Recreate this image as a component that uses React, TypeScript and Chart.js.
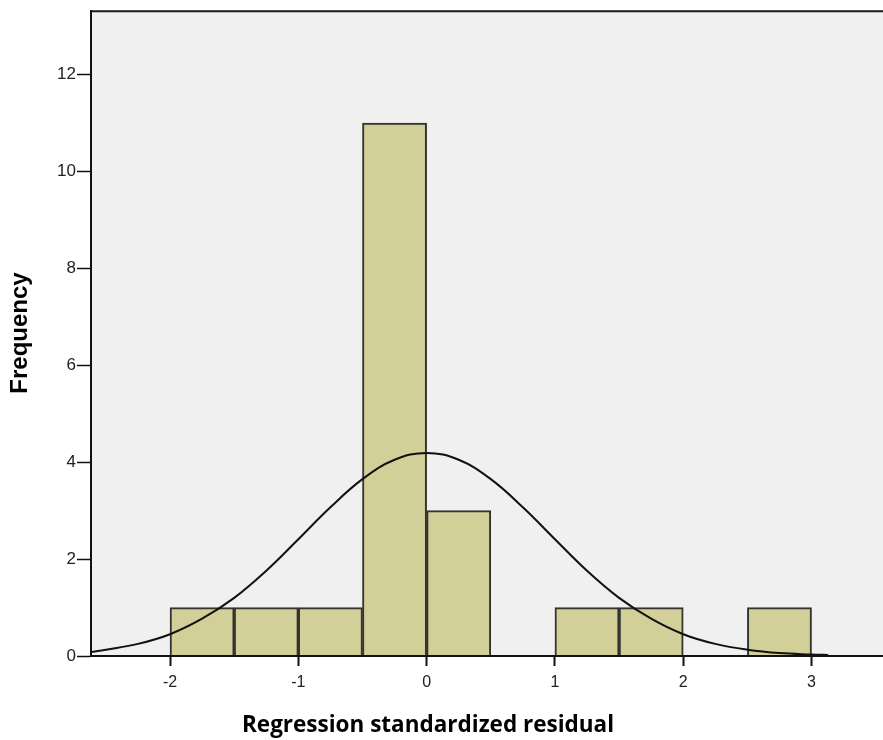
import React, { useEffect, useRef } from "react";
import { Chart, registerables } from "chart.js";

Chart.register(...registerables);

// Histogram bins (bin centres, width 0.5) and frequencies
const binCenters = [-1.75, -1.25, -0.75, -0.25, 0.25, 0.75, 1.25, 1.75, 2.25, 2.75];
const frequencies = [1, 1, 1, 11, 3, 0, 1, 1, 0, 1];

// Normal curve
const curveX = [-2.62, -2.5, -2.25, -2, -1.75, -1.5, -1.25, -1, -0.75, -0.5, -0.25, 0, 0.25, 0.5, 0.75, 1, 1.25, 1.5, 1.75, 2, 2.25, 2.5, 2.75, 3, 3.13];
const curveY = [0.08, 0.13, 0.25, 0.45, 0.77, 1.2, 1.76, 2.41, 3.07, 3.65, 4.05, 4.19, 4.05, 3.65, 3.07, 2.41, 1.76, 1.2, 0.77, 0.45, 0.25, 0.13, 0.06, 0.03, 0.02];

const yTicks = [0, 2, 4, 6, 8, 10, 12];
const xTicks = [-2, -1, 0, 1, 2, 3];

const xTitle = "Regression standardized residual";
const yTitle = "Frequency";

export default function App() {
  const ref = useRef<HTMLCanvasElement | null>(null);

  useEffect(() => {
    document.body.style.margin = "0";
    const canvas = ref.current;
    if (!canvas) return;

    const framePlugin = {
      id: "frame",
      beforeDraw(chart: any) {
        const { ctx, chartArea: a } = chart;
        ctx.save();
        ctx.fillStyle = "#f0f0f0";
        ctx.fillRect(a.left, a.top, a.right - a.left, a.bottom - a.top);
        ctx.restore();
      },
      afterDraw(chart: any) {
        const { ctx, chartArea: a } = chart;
        ctx.save();
        ctx.strokeStyle = "#1a1a1a";
        ctx.lineWidth = 2;
        ctx.beginPath();
        ctx.moveTo(a.left - 1, a.top);
        ctx.lineTo(a.right, a.top);
        ctx.stroke();
        // axis titles
        ctx.fillStyle = "#000";
        ctx.font = 'bold 22.5px "Open Sans"';
        ctx.textAlign = "center";
        ctx.textBaseline = "alphabetic";
        ctx.fillText(xTitle, 428, 732);
        ctx.translate(27, 333);
        ctx.rotate(-Math.PI / 2);
        ctx.font = 'bold 24px "Liberation Sans"';
        ctx.fillText(yTitle, 0, 0);
        ctx.restore();
      },
    };

    const chart = new Chart(canvas, {
      type: "bar",
      data: {
        datasets: [
          {
            type: "line",
            data: curveX.map((x, i) => ({ x, y: curveY[i] })),
            borderColor: "#111",
            borderWidth: 2,
            pointRadius: 0,
            tension: 0.4,
            fill: false,
            order: 0,
          } as any,
          {
            type: "bar",
            data: binCenters.map((x, i) => ({ x, y: frequencies[i] })),
            backgroundColor: "#d3cf98",
            borderColor: "#333330",
            borderWidth: 2,
            barPercentage: 1,
            categoryPercentage: 1,
            order: 1,
          } as any,
        ],
      },
      plugins: [framePlugin],
      options: {
        responsive: false,
        animation: false,
        devicePixelRatio: 1,
        layout: { padding: { top: 9, left: 0, right: 0, bottom: 0 } },
        plugins: { legend: { display: false }, tooltip: { enabled: false } },
        scales: {
          x: {
            type: "linear",
            min: -2.616,
            max: 3.557,
            offset: false,
            afterFit(scale: any) {
              scale.height = 84;
            },
            afterBuildTicks(scale: any) {
              scale.ticks = xTicks.map((v) => ({ value: v }));
            },
            ticks: {
              includeBounds: false,
              color: "#222",
              font: { family: '"Liberation Sans", Arial', size: 16 },
              padding: 7,
              maxRotation: 0,
            },
            grid: {
              display: true,
              drawOnChartArea: false,
              drawTicks: true,
              tickLength: 10,
              tickWidth: 2,
              tickColor: "#111",
              offset: false,
              z: 1,
            },
            border: { display: true, color: "#111", width: 2, z: 1 } as any,
          },
          y: {
            type: "linear",
            min: 0,
            max: 13.31,
            afterFit(scale: any) {
              scale.width = 91;
            },
            afterBuildTicks(scale: any) {
              scale.ticks = yTicks.map((v) => ({ value: v }));
            },
            ticks: {
              includeBounds: false,
              color: "#222",
              font: { family: '"Liberation Sans", Arial', size: 17 },
              padding: 1,
            },
            grid: {
              display: true,
              drawOnChartArea: false,
              drawTicks: true,
              tickLength: 14,
              tickWidth: 1.5,
              tickColor: "#111",
            },
            border: { display: true, color: "#111", width: 2 },
          },
        },
      } as any,
    });

    return () => chart.destroy();
  }, []);

  return (
    <div style={{ position: "absolute", left: 0, top: 0, width: 883, height: 740 }}>
      <canvas ref={ref} width={883} height={740} />
    </div>
  );
}
